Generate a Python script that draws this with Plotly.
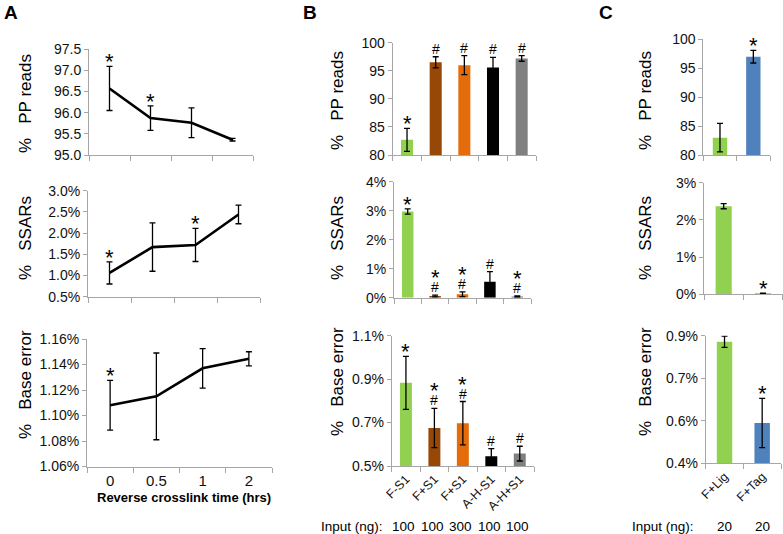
import plotly.graph_objects as go

# ---------------- data ----------------
time_labels = ["0", "0.5", "1", "2"]
a_pp = [96.57, 95.87, 95.76, 95.36]
a_pp_err = [0.52, 0.29, 0.35, 0.03]
a_ssar = [1.06, 1.67, 1.72, 2.44]
a_ssar_err = [0.26, 0.57, 0.39, 0.22]
a_base = [1.108, 1.115, 1.137, 1.1445]
a_base_err = [0.0195, 0.034, 0.0155, 0.0055]
a_pp_marks = ["*", "*", "", ""]
a_ssar_marks = ["*", "", "*", ""]
a_base_marks = ["*", "", "", ""]

b_labels = ["F-S1", "F+S1", "F+S1", "A-H-S1", "A-H+S1"]
b_input = ["100", "100", "300", "100", "100"]
b_colors = ["#92D050", "#974706", "#E46C0A", "#000000", "#808080"]
b_pp = [82.7, 96.5, 96.0, 95.6, 97.2]
b_pp_err = [2.05, 1.0, 1.7, 1.8, 0.5]
b_ssar = [2.97, 0.06, 0.12, 0.55, 0.04]
b_ssar_err = [0.09, 0.03, 0.08, 0.35, 0.02]
b_base = [0.883, 0.675, 0.697, 0.545, 0.557]
b_base_err = [0.122, 0.09, 0.10, 0.035, 0.034]
b_pp_marks = ["*", "#", "#", "#", "#"]
b_ssar_marks = ["*", "*#", "*#", "#", "*#"]
b_base_marks = ["*", "*#", "*#", "#", "#"]

c_labels = ["F+Lig", "F+Tag"]
c_input = ["20", "20"]
c_colors = ["#92D050", "#4F81BD"]
c_pp = [83.0, 97.0]
c_pp_err = [2.45, 1.1]
c_ssar = [2.37, 0.02]
c_ssar_err = [0.07, 0.01]
c_base = [0.829, 0.542]
c_base_err = [0.02, 0.087]
c_pp_marks = ["", "*"]
c_ssar_marks = ["", "*"]
c_base_marks = ["", "*"]

# ---------------- layout helpers ----------------
W, H = 783, 534
FONT = "Liberation Sans, Arial, sans-serif"
AXC = "#A6A6A6"


def px(x):
    return x / W


def py(y):
    return 1 - y / H


fig = go.Figure()
annotations = []

# panel geometry in pixels: (x0, x1, ytop, ybottom)
geo = {
    1: (89, 253, 49, 155),
    2: (88, 260, 190.7, 296.7),
    3: (87, 272, 339, 466.5),
    4: (392.7, 536, 42.7, 155),
    5: (394, 531, 181.7, 297.7),
    6: (391.7, 534, 335.7, 466),
    7: (703.3, 770, 39.3, 155),
    8: (704, 782.7, 182.7, 294.3),
    9: (705.7, 781, 335.7, 463.3),
}

err_style = dict(type="data", color="black", thickness=1.3, width=3, visible=True)

STAR = dict(family=FONT, size=22, color="black")
HASH = dict(family=FONT, size=14, color="black")


def add_marks(n, xs, tops, marks):
    for x, t, m in zip(xs, tops, marks):
        if not m:
            continue
        base = 0
        if "#" in m:
            annotations.append(dict(
                x=x, y=t, xref=f"x{n}", yref=f"y{n}", text="#", showarrow=False,
                yanchor="bottom", yshift=-2, font=HASH))
            base = 13
        if "*" in m:
            annotations.append(dict(
                x=x, y=t, xref=f"x{n}", yref=f"y{n}", text="*", showarrow=False,
                yanchor="bottom", yshift=-10 + base, font=STAR))


def line_panel(n, vals, errs, marks):
    xs = list(range(len(vals)))
    fig.add_trace(go.Scatter(
        x=xs, y=vals, mode="lines", line=dict(color="black", width=2.6),
        error_y=dict(array=errs, **err_style), xaxis=f"x{n}", yaxis=f"y{n}",
        showlegend=False, hoverinfo="skip"))
    add_marks(n, xs, [v + e for v, e in zip(vals, errs)], marks)


def bar_panel(n, vals, errs, colors, marks, width):
    xs = list(range(len(vals)))
    fig.add_trace(go.Bar(
        x=xs, y=vals, marker=dict(color=colors, line=dict(width=0)), width=width,
        error_y=dict(array=errs, **err_style), xaxis=f"x{n}", yaxis=f"y{n}",
        showlegend=False, hoverinfo="skip"))
    add_marks(n, xs, [v + e for v, e in zip(vals, errs)], marks)


line_panel(1, a_pp, a_pp_err, a_pp_marks)
line_panel(2, a_ssar, a_ssar_err, a_ssar_marks)
line_panel(3, a_base, a_base_err, a_base_marks)
bar_panel(4, b_pp, b_pp_err, b_colors, b_pp_marks, 0.42)
bar_panel(5, b_ssar, b_ssar_err, b_colors, b_ssar_marks, 0.42)
bar_panel(6, b_base, b_base_err, b_colors, b_base_marks, 0.42)
bar_panel(7, c_pp, c_pp_err, c_colors, c_pp_marks, 0.43)
bar_panel(8, c_ssar, c_ssar_err, c_colors, c_ssar_marks, 0.41)
bar_panel(9, c_base, c_base_err, c_colors, c_base_marks, 0.41)

# y axis specs
yspec = {
    1: dict(range=[95, 97.5], tick0=95, dtick=0.5, tickformat=".1f"),
    2: dict(range=[0.5, 3.0], tick0=0.5, dtick=0.5, tickformat=".1f", ticksuffix="%"),
    3: dict(range=[1.06, 1.16], tick0=1.06, dtick=0.02, tickformat=".2f", ticksuffix="%"),
    4: dict(range=[80, 100], tick0=80, dtick=5, tickformat="d"),
    5: dict(range=[0, 4], tick0=0, dtick=1, tickformat="d", ticksuffix="%"),
    6: dict(range=[0.5, 1.1], tick0=0.5, dtick=0.2, tickformat=".1f", ticksuffix="%"),
    7: dict(range=[80, 100], tick0=80, dtick=5, tickformat="d"),
    8: dict(range=[0, 3], tick0=0, dtick=1, tickformat="d", ticksuffix="%"),
    9: dict(range=[0.4, 0.85], tickmode="array", tickvals=[0.4, 0.55, 0.7, 0.85],
            ticktext=["0.4%", "0.6%", "0.7%", "0.9%"]),
}
ncat = {1: 4, 2: 4, 3: 4, 4: 5, 5: 5, 6: 5, 7: 2, 8: 2, 9: 2}

for n in range(1, 10):
    x0, x1, yt, yb = geo[n]
    k = ncat[n]
    xa = dict(
        domain=[px(x0), px(x1)], range=[-0.5, k - 0.5], anchor=f"y{n}",
        automargin=False,
        showline=True, linecolor=AXC, linewidth=1, showgrid=False, zeroline=False,
        tickmode="array", tickvals=list(range(k)), ticks="",
        minor=dict(tickmode="linear", tick0=-0.5, dtick=1, ticks="outside",
                   ticklen=5, tickcolor=AXC, tickwidth=1, showgrid=False),
        tickfont=dict(family=FONT, size=13, color="#111"),
        fixedrange=True,
    )
    if n == 3:
        xa["ticktext"] = time_labels
        xa["tickfont"] = dict(family=FONT, size=15, color="#111")
    elif n == 6:
        xa["ticktext"] = b_labels
        xa["tickangle"] = -45
        xa["tickfont"] = dict(family=FONT, size=12.5, color="#111")
    elif n == 9:
        xa["ticktext"] = c_labels
        xa["tickangle"] = -45
        xa["tickfont"] = dict(family=FONT, size=12.5, color="#111")
    else:
        xa["showticklabels"] = False
    ya = dict(
        domain=[py(yb), py(yt)], anchor=f"x{n}", automargin=False,
        showline=True, linecolor=AXC,
        linewidth=1, showgrid=False, zeroline=False, ticks="outside", ticklen=4,
        tickcolor=AXC, tickfont=dict(family=FONT, size=14, color="#111"),
        fixedrange=True, **yspec[n])
    key = "" if n == 1 else str(n)
    fig.layout["xaxis" + key] = xa
    fig.layout["yaxis" + key] = ya

# y axis titles
sp = "&nbsp;&nbsp;&nbsp;"
titles = [
    (25, 104, "%" + sp + "PP reads"),
    (25, 238, "%" + sp + "SSARs"),
    (25, 385, "%" + sp + "Base error"),
    (337, 101, "%" + sp + "PP reads"),
    (337, 238, "%" + sp + "SSARs"),
    (337, 382, "%" + sp + "Base error"),
    (645, 101, "%" + sp + "PP reads"),
    (645, 238, "%" + sp + "SSARs"),
    (645, 382, "%" + sp + "Base error"),
]
for x, y, t in titles:
    annotations.append(dict(x=px(x), y=py(y), xref="paper", yref="paper", text=t,
                            textangle=-90, showarrow=False, xanchor="center",
                            yanchor="middle",
                            font=dict(family=FONT, size=17, color="black")))

# panel letters
for x, y, t in [(2, 12, "A"), (301, 13, "B"), (597, 13, "C")]:
    annotations.append(dict(x=px(x), y=py(y), xref="paper", yref="paper",
                            text="<b>" + t + "</b>", showarrow=False,
                            xanchor="left", yanchor="middle",
                            font=dict(family=FONT, size=19, color="black")))

# x axis title panel A
annotations.append(dict(x=px(184), y=py(498), xref="paper", yref="paper",
                        text="<b>Reverse crosslink time (hrs)</b>", showarrow=False,
                        xanchor="center", yanchor="middle",
                        font=dict(family=FONT, size=13, color="black")))

# input rows
annotations.append(dict(x=px(319), y=py(526), xref="paper", yref="paper",
                        text="Input (ng):", showarrow=False, xanchor="left",
                        yanchor="middle", font=dict(family=FONT, size=13.5, color="black")))
for i, t in enumerate(b_input):
    annotations.append(dict(x=i, y=py(526), xref="x6", yref="paper", text=t,
                            showarrow=False, xanchor="center", yanchor="middle",
                            xshift=-2,
                            font=dict(family=FONT, size=13.5, color="black")))
annotations.append(dict(x=px(630), y=py(526), xref="paper", yref="paper",
                        text="Input (ng):", showarrow=False, xanchor="left",
                        yanchor="middle", font=dict(family=FONT, size=13.5, color="black")))
for i, t in enumerate(c_input):
    annotations.append(dict(x=i, y=py(526), xref="x9", yref="paper", text=t,
                            showarrow=False, xanchor="center", yanchor="middle",
                            font=dict(family=FONT, size=13.5, color="black")))

fig.update_layout(
    width=W, height=H, margin=dict(l=0, r=0, t=0, b=0, autoexpand=False),
    paper_bgcolor="white", plot_bgcolor="white",
    annotations=annotations, showlegend=False, hovermode=False,
    font=dict(family=FONT),
)

fig.write_html(
    "out.html",
    config={"displayModeBar": False, "staticPlot": True},
    post_script="document.body.style.margin='0px';document.body.style.overflow='hidden';",
)
